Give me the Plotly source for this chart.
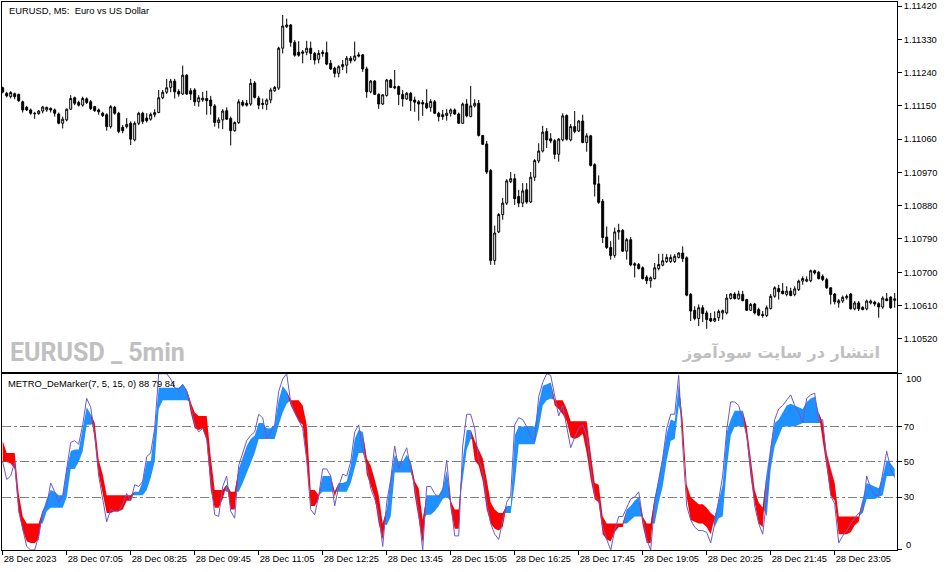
import plotly.graph_objects as go

# EURUSD M5 candles, 28 Dec 2023 from 05:45
opens = [
    1.11199, 1.11184, 1.11175, 1.11183, 1.11181, 1.11161, 1.11146, 1.11139, 1.11130, 1.11129,
    1.11136, 1.11139, 1.11143, 1.11139, 1.11128, 1.11103, 1.11112, 1.11141, 1.11172, 1.11159,
    1.11152, 1.11169, 1.11161, 1.11148, 1.11139, 1.11130, 1.11126, 1.11094, 1.11146, 1.11130,
    1.11092, 1.11094, 1.11103, 1.11058, 1.11103, 1.11130, 1.11117, 1.11114, 1.11126, 1.11132,
    1.11172, 1.11187, 1.11200, 1.11217, 1.11189, 1.11182, 1.11233, 1.11191, 1.11193, 1.11161,
    1.11166, 1.11170, 1.11166, 1.11150, 1.11105, 1.11112, 1.11137, 1.11116, 1.11083, 1.11105,
    1.11160, 1.11157, 1.11155, 1.11212, 1.11171, 1.11157, 1.11154, 1.11166, 1.11191, 1.11198,
    1.11306, 1.11364, 1.11369, 1.11322, 1.11295, 1.11292, 1.11295, 1.11306, 1.11292, 1.11276,
    1.11295, 1.11294, 1.11265, 1.11252, 1.11238, 1.11256, 1.11260, 1.11279, 1.11274, 1.11288,
    1.11288, 1.11250, 1.11188, 1.11217, 1.11181, 1.11155, 1.11178, 1.11220, 1.11202, 1.11202,
    1.11181, 1.11169, 1.11184, 1.11166, 1.11161, 1.11159, 1.11157, 1.11146, 1.11161, 1.11130,
    1.11126, 1.11124, 1.11130, 1.11139, 1.11128, 1.11103, 1.11155, 1.11121, 1.11150, 1.11157,
    1.11070, 1.11047, 1.10975, 1.10732, 1.10809, 1.10856, 1.10887, 1.10945, 1.10953, 1.10905,
    1.10887, 1.10923, 1.10890, 1.10957, 1.11001, 1.11028, 1.11081, 1.11061, 1.11056, 1.11019,
    1.11058, 1.11124, 1.11058, 1.11094, 1.11082, 1.11109, 1.11051, 1.11069, 1.10991, 1.10939,
    1.10892, 1.10795, 1.10767, 1.10745, 1.10809, 1.10813, 1.10757, 1.10788, 1.10723, 1.10721,
    1.10712, 1.10687, 1.10677, 1.10683, 1.10710, 1.10719, 1.10729, 1.10729, 1.10729, 1.10740,
    1.10752, 1.10739, 1.10640, 1.10597, 1.10575, 1.10604, 1.10590, 1.10575, 1.10568, 1.10577,
    1.10590, 1.10590, 1.10629, 1.10641, 1.10628, 1.10640, 1.10626, 1.10597, 1.10614, 1.10599,
    1.10586, 1.10583, 1.10602, 1.10635, 1.10656, 1.10649, 1.10640, 1.10649, 1.10640, 1.10653,
    1.10676, 1.10676, 1.10677, 1.10704, 1.10700, 1.10689, 1.10680, 1.10658, 1.10641, 1.10617,
    1.10622, 1.10631, 1.10641, 1.10601, 1.10617, 1.10605, 1.10601, 1.10617, 1.10619, 1.10615,
    1.10606, 1.10628, 1.10633, 1.10624,
]
highs = [
    1.11202, 1.11188, 1.11190, 1.11186, 1.11183, 1.11164, 1.11150, 1.11143, 1.11134, 1.11139,
    1.11150, 1.11148, 1.11146, 1.11143, 1.11132, 1.11121, 1.11143, 1.11179, 1.11175, 1.11164,
    1.11175, 1.11173, 1.11166, 1.11150, 1.11143, 1.11134, 1.11130, 1.11152, 1.11150, 1.11134,
    1.11098, 1.11117, 1.11108, 1.11108, 1.11134, 1.11134, 1.11130, 1.11132, 1.11141, 1.11193,
    1.11193, 1.11223, 1.11223, 1.11223, 1.11195, 1.11259, 1.11236, 1.11198, 1.11198, 1.11179,
    1.11188, 1.11191, 1.11177, 1.11155, 1.11119, 1.11141, 1.11146, 1.11121, 1.11108, 1.11168,
    1.11166, 1.11166, 1.11223, 1.11217, 1.11177, 1.11170, 1.11170, 1.11199, 1.11204, 1.11310,
    1.11396, 1.11386, 1.11371, 1.11328, 1.11325, 1.11301, 1.11326, 1.11324, 1.11296, 1.11301,
    1.11301, 1.11324, 1.11274, 1.11256, 1.11260, 1.11274, 1.11285, 1.11285, 1.11324, 1.11295,
    1.11290, 1.11256, 1.11220, 1.11220, 1.11184, 1.11181, 1.11223, 1.11223, 1.11247, 1.11205,
    1.11193, 1.11188, 1.11188, 1.11175, 1.11166, 1.11166, 1.11195, 1.11168, 1.11166, 1.11134,
    1.11139, 1.11141, 1.11143, 1.11143, 1.11132, 1.11159, 1.11168, 1.11204, 1.11168, 1.11166,
    1.11071, 1.11055, 1.10979, 1.10826, 1.10860, 1.10901, 1.10952, 1.10971, 1.10966, 1.10923,
    1.10941, 1.10941, 1.10971, 1.11006, 1.11049, 1.11096, 1.11090, 1.11076, 1.11060, 1.11063,
    1.11130, 1.11127, 1.11101, 1.11136, 1.11112, 1.11126, 1.11076, 1.11071, 1.10995, 1.10962,
    1.10898, 1.10824, 1.10784, 1.10821, 1.10831, 1.10817, 1.10793, 1.10795, 1.10727, 1.10725,
    1.10716, 1.10692, 1.10689, 1.10725, 1.10750, 1.10750, 1.10749, 1.10748, 1.10749, 1.10754,
    1.10770, 1.10743, 1.10644, 1.10608, 1.10613, 1.10611, 1.10596, 1.10590, 1.10594, 1.10599,
    1.10599, 1.10641, 1.10644, 1.10646, 1.10650, 1.10650, 1.10628, 1.10617, 1.10617, 1.10604,
    1.10595, 1.10610, 1.10641, 1.10662, 1.10666, 1.10671, 1.10662, 1.10658, 1.10662, 1.10680,
    1.10689, 1.10689, 1.10707, 1.10707, 1.10703, 1.10694, 1.10685, 1.10659, 1.10644, 1.10628,
    1.10637, 1.10640, 1.10644, 1.10622, 1.10622, 1.10608, 1.10626, 1.10626, 1.10623, 1.10619,
    1.10635, 1.10644, 1.10635, 1.10644,
]
lows = [
    1.11184, 1.11173, 1.11170, 1.11168, 1.11161, 1.11132, 1.11136, 1.11126, 1.11115, 1.11126,
    1.11130, 1.11134, 1.11132, 1.11121, 1.11100, 1.11089, 1.11108, 1.11139, 1.11152, 1.11148,
    1.11148, 1.11155, 1.11139, 1.11134, 1.11126, 1.11120, 1.11083, 1.11089, 1.11126, 1.11076,
    1.11076, 1.11089, 1.11044, 1.11054, 1.11098, 1.11101, 1.11105, 1.11110, 1.11119, 1.11130,
    1.11168, 1.11182, 1.11187, 1.11170, 1.11175, 1.11180, 1.11180, 1.11166, 1.11150, 1.11148,
    1.11161, 1.11126, 1.11126, 1.11094, 1.11089, 1.11087, 1.11112, 1.11043, 1.11080, 1.11101,
    1.11148, 1.11148, 1.11150, 1.11170, 1.11141, 1.11141, 1.11139, 1.11157, 1.11188, 1.11193,
    1.11292, 1.11361, 1.11310, 1.11283, 1.11283, 1.11265, 1.11287, 1.11274, 1.11262, 1.11265,
    1.11283, 1.11260, 1.11247, 1.11227, 1.11227, 1.11247, 1.11238, 1.11265, 1.11270, 1.11281,
    1.11242, 1.11172, 1.11184, 1.11180, 1.11142, 1.11152, 1.11175, 1.11198, 1.11195, 1.11152,
    1.11148, 1.11166, 1.11136, 1.11134, 1.11110, 1.11123, 1.11141, 1.11134, 1.11128, 1.11108,
    1.11112, 1.11110, 1.11121, 1.11126, 1.11101, 1.11101, 1.11119, 1.11119, 1.11146, 1.11067,
    1.11044, 1.10966, 1.10720, 1.10720, 1.10806, 1.10842, 1.10882, 1.10941, 1.10882, 1.10876,
    1.10876, 1.10885, 1.10887, 1.10947, 1.10995, 1.11024, 1.11036, 1.11049, 1.11006, 1.10999,
    1.11054, 1.11056, 1.11054, 1.11076, 1.11079, 1.11049, 1.11026, 1.10986, 1.10905, 1.10885,
    1.10779, 1.10763, 1.10734, 1.10739, 1.10788, 1.10755, 1.10734, 1.10716, 1.10686, 1.10707,
    1.10680, 1.10668, 1.10658, 1.10680, 1.10705, 1.10716, 1.10725, 1.10725, 1.10725, 1.10737,
    1.10728, 1.10635, 1.10568, 1.10570, 1.10554, 1.10565, 1.10547, 1.10565, 1.10565, 1.10568,
    1.10572, 1.10586, 1.10626, 1.10626, 1.10626, 1.10622, 1.10595, 1.10595, 1.10586, 1.10581,
    1.10577, 1.10579, 1.10599, 1.10631, 1.10626, 1.10640, 1.10635, 1.10635, 1.10635, 1.10649,
    1.10666, 1.10673, 1.10673, 1.10694, 1.10680, 1.10676, 1.10655, 1.10613, 1.10613, 1.10604,
    1.10617, 1.10626, 1.10599, 1.10597, 1.10595, 1.10597, 1.10597, 1.10613, 1.10608, 1.10577,
    1.10601, 1.10622, 1.10601, 1.10604,
]
closes = [
    1.11188, 1.11177, 1.11186, 1.11175, 1.11164, 1.11139, 1.11139, 1.11130, 1.11129, 1.11136,
    1.11147, 1.11146, 1.11139, 1.11130, 1.11103, 1.11114, 1.11141, 1.11170, 1.11157, 1.11152,
    1.11170, 1.11159, 1.11143, 1.11137, 1.11134, 1.11124, 1.11094, 1.11148, 1.11130, 1.11081,
    1.11083, 1.11100, 1.11060, 1.11103, 1.11130, 1.11108, 1.11110, 1.11127, 1.11132, 1.11172,
    1.11187, 1.11199, 1.11217, 1.11188, 1.11182, 1.11233, 1.11182, 1.11182, 1.11161, 1.11172,
    1.11171, 1.11164, 1.11150, 1.11105, 1.11112, 1.11136, 1.11114, 1.11083, 1.11105, 1.11161,
    1.11152, 1.11152, 1.11211, 1.11173, 1.11152, 1.11154, 1.11166, 1.11193, 1.11200, 1.11306,
    1.11366, 1.11369, 1.11322, 1.11287, 1.11287, 1.11296, 1.11306, 1.11292, 1.11274, 1.11292,
    1.11292, 1.11263, 1.11250, 1.11238, 1.11256, 1.11262, 1.11279, 1.11272, 1.11285, 1.11285,
    1.11250, 1.11188, 1.11217, 1.11181, 1.11155, 1.11180, 1.11220, 1.11200, 1.11199, 1.11181,
    1.11169, 1.11184, 1.11164, 1.11160, 1.11155, 1.11155, 1.11145, 1.11162, 1.11130, 1.11121,
    1.11121, 1.11130, 1.11139, 1.11128, 1.11103, 1.11155, 1.11123, 1.11150, 1.11157, 1.11070,
    1.11046, 1.10971, 1.10732, 1.10806, 1.10856, 1.10887, 1.10947, 1.10953, 1.10899, 1.10887,
    1.10920, 1.10890, 1.10957, 1.11002, 1.11028, 1.11079, 1.11058, 1.11055, 1.11019, 1.11060,
    1.11123, 1.11060, 1.11094, 1.11081, 1.11109, 1.11051, 1.11069, 1.10989, 1.10938, 1.10889,
    1.10794, 1.10767, 1.10745, 1.10809, 1.10813, 1.10757, 1.10788, 1.10720, 1.10719, 1.10710,
    1.10683, 1.10677, 1.10685, 1.10712, 1.10721, 1.10731, 1.10740, 1.10740, 1.10743, 1.10752,
    1.10737, 1.10638, 1.10595, 1.10575, 1.10604, 1.10588, 1.10572, 1.10568, 1.10575, 1.10594,
    1.10596, 1.10630, 1.10641, 1.10629, 1.10641, 1.10623, 1.10597, 1.10613, 1.10590, 1.10584,
    1.10583, 1.10604, 1.10635, 1.10658, 1.10647, 1.10642, 1.10649, 1.10637, 1.10655, 1.10676,
    1.10683, 1.10680, 1.10704, 1.10698, 1.10683, 1.10680, 1.10658, 1.10640, 1.10620, 1.10623,
    1.10632, 1.10635, 1.10601, 1.10617, 1.10601, 1.10599, 1.10622, 1.10622, 1.10614, 1.10606,
    1.10630, 1.10623, 1.10604, 1.10628,
]

# METRO_DeMarker buffers
demarker = [
    50, 40, 42, 50, 22, 11, 2, 0, 0, 8,
    22, 25, 38, 33, 27, 31, 46, 61, 62, 60,
    71, 86, 81, 65, 42, 29, 16, 23, 22, 22,
    26, 32, 28, 37, 36, 39, 53, 55, 69, 100,
    100, 100, 97, 92, 91, 94, 90, 82, 71, 67,
    69, 63, 40, 20, 19, 36, 42, 22, 18, 48,
    55, 62, 65, 67, 77, 75, 63, 67, 71, 90,
    97, 100, 84, 78, 73, 69, 51, 23, 20, 31,
    46, 46, 42, 25, 36, 43, 42, 50, 67, 71,
    57, 48, 35, 29, 21, 2, 27, 40, 59, 46,
    53, 58, 46, 36, 21, 0, 36, 36, 32, 30,
    34, 51, 27, 8, 8, 59, 77, 77, 69, 51,
    45, 27, 15, 9, 6, 16, 27, 31, 71, 75,
    74, 70, 64, 62, 87, 95, 100, 99, 88, 76,
    82, 71, 58, 64, 69, 71, 65, 46, 31, 28,
    13, 6, 0, 11, 19, 19, 24, 29, 30, 33,
    18, 6, 0, 27, 40, 52, 69, 77, 77, 99,
    59, 25, 17, 13, 11, 11, 10, 4, 15, 28,
    42, 68, 84, 84, 82, 74, 65, 46, 25, 15,
    9, 29, 57, 74, 80, 82, 85, 88, 82, 78,
    72, 86, 88, 89, 73, 74, 50, 31, 26, 4,
    8, 11, 15, 18, 21, 22, 42, 35, 31, 31,
    44, 56, 46, 41,
]
fast_step = [
    50, 50, 49, 46, 22, 11, 5, 4, 4, 6,
    22, 29, 34, 33, 31, 31, 46, 56, 57, 57,
    69, 81, 77, 63, 43, 31, 21, 21, 22, 22,
    23, 28, 28, 33, 33, 39, 50, 50, 69, 92,
    92, 92, 92, 92, 92, 94, 91, 78, 69, 68,
    69, 62, 34, 24, 24, 29, 37, 23, 23, 46,
    52, 59, 63, 65, 72, 72, 69, 69, 71, 85,
    93, 90, 82, 77, 73, 71, 51, 25, 25, 29,
    42, 42, 42, 30, 38, 38, 39, 48, 63, 68,
    67, 43, 37, 30, 15, 6, 23, 40, 54, 50,
    50, 54, 50, 31, 17, 4, 31, 31, 31, 31,
    35, 45, 23, 12, 12, 51, 68, 68, 51, 48,
    39, 23, 15, 12, 11, 13, 25, 25, 65, 70,
    70, 70, 70, 70, 83, 93, 94, 95, 82, 80,
    77, 73, 64, 63, 64, 66, 55, 40, 29, 27,
    9, 6, 5, 10, 13, 13, 23, 25, 28, 30,
    14, 4, 4, 30, 40, 52, 66, 74, 73, 94,
    59, 30, 17, 16, 15, 15, 13, 9, 19, 28,
    37, 67, 74, 79, 79, 79, 63, 41, 27, 15,
    13, 44, 59, 72, 74, 78, 82, 83, 82, 81,
    80, 84, 86, 87, 78, 62, 46, 31, 28, 9,
    9, 9, 10, 14, 16, 29, 38, 37, 36, 35,
    42, 51, 49, 46,
]
slow_step = [
    62, 55, 55, 55, 32, 19, 15, 15, 15, 15,
    15, 22, 24, 24, 24, 24, 30, 46, 46, 50,
    56, 71, 71, 72, 51, 43, 31, 31, 31, 31,
    31, 31, 31, 31, 31, 31, 34, 41, 50, 80,
    85, 85, 85, 85, 85, 85, 85, 84, 78, 76,
    76, 76, 53, 34, 34, 34, 33, 33, 33, 33,
    38, 44, 50, 55, 63, 63, 63, 63, 63, 71,
    78, 83, 85, 85, 85, 82, 71, 34, 34, 31,
    33, 33, 33, 33, 33, 33, 33, 38, 46, 55,
    55, 52, 48, 40, 31, 15, 14, 19, 44, 44,
    44, 44, 44, 39, 35, 17, 20, 20, 22, 25,
    29, 30, 28, 23, 23, 40, 57, 63, 62, 57,
    52, 40, 27, 23, 21, 21, 21, 21, 38, 60,
    60, 60, 60, 60, 69, 82, 85, 86, 85, 85,
    85, 80, 73, 73, 73, 73, 73, 55, 38, 37,
    19, 15, 15, 15, 15, 15, 15, 17, 19, 19,
    19, 15, 15, 15, 27, 36, 51, 62, 63, 82,
    73, 37, 30, 28, 26, 26, 24, 21, 13, 18,
    19, 46, 65, 70, 70, 70, 70, 51, 34, 27,
    24, 19, 46, 59, 65, 70, 70, 70, 70, 71,
    72, 72, 72, 72, 72, 72, 55, 46, 38, 19,
    19, 19, 19, 19, 19, 21, 29, 29, 29, 30,
    31, 42, 42, 42,
]

time_labels = ["28 Dec 2023", "28 Dec 07:05", "28 Dec 08:25", "28 Dec 09:45",
               "28 Dec 11:05", "28 Dec 12:25", "28 Dec 13:45", "28 Dec 15:05",
               "28 Dec 16:25", "28 Dec 17:45", "28 Dec 19:05", "28 Dec 20:25",
               "28 Dec 21:45", "28 Dec 23:05"]
price_ticks = [1.10520, 1.10610, 1.10700, 1.10790, 1.10880, 1.10970,
               1.11060, 1.11150, 1.11240, 1.11330, 1.11420]
level_ticks = [0, 30, 50, 70, 100]

bars = list(range(len(closes)))
tick_idx = list(range(0, len(closes), 16))[:len(time_labels)]
upper = [max(f, s) for f, s in zip(fast_step, slow_step)]

FONT = "Liberation Sans, Arial, sans-serif"
x_range = [-0.175, 223.575]

fig = go.Figure()
fig.add_trace(go.Candlestick(
    x=bars, open=opens, high=highs, low=lows, close=closes,
    increasing=dict(line=dict(color="black", width=1), fillcolor="white"),
    decreasing=dict(line=dict(color="black", width=1), fillcolor="black"),
    whiskerwidth=0, xaxis="x", yaxis="y", hoverinfo="skip"))

# blue where fast > slow, red otherwise
fig.add_trace(go.Scatter(x=bars, y=slow_step, mode="lines", line=dict(width=0),
                         xaxis="x2", yaxis="y2", hoverinfo="skip"))
fig.add_trace(go.Scatter(x=bars, y=upper, mode="lines", line=dict(width=0),
                         fill="tonexty", fillcolor="#1E90FF",
                         xaxis="x2", yaxis="y2", hoverinfo="skip"))
fig.add_trace(go.Scatter(x=bars, y=fast_step, mode="lines", line=dict(width=0),
                         xaxis="x2", yaxis="y2", hoverinfo="skip"))
fig.add_trace(go.Scatter(x=bars, y=upper, mode="lines", line=dict(width=0),
                         fill="tonexty", fillcolor="#FF0000",
                         xaxis="x2", yaxis="y2", hoverinfo="skip"))
fig.add_trace(go.Scatter(x=bars, y=demarker, mode="lines",
                         line=dict(color="#6A5ACD", width=1),
                         xaxis="x2", yaxis="y2", hoverinfo="skip"))

frame = dict(showline=True, mirror=True, linecolor="black", linewidth=1,
             zeroline=False, showgrid=False, automargin=False)

fig.update_layout(
    width=951, height=572,
    margin=dict(l=2, r=54, t=2, b=22, pad=0),
    paper_bgcolor="white", plot_bgcolor="white",
    showlegend=False,
    font=dict(family=FONT, size=9.3, color="black"),
    xaxis=dict(domain=[0, 1], anchor="y", range=x_range, showticklabels=False,
               ticks="", rangeslider=dict(visible=False), **frame),
    yaxis=dict(domain=[0.3254, 1], anchor="x", side="right",
               range=[1.10431, 1.11431], tickvals=price_ticks,
               ticktext=[f"{v:.5f}" for v in price_ticks],
               ticks="outside", ticklen=4, tickcolor="black", **frame),
    xaxis2=dict(domain=[0, 1], anchor="y2", range=x_range,
                tickvals=tick_idx, ticktext=time_labels, tickangle=0,
                ticks="outside", ticklen=4, tickcolor="black",
                ticklabelposition="outside right", **frame),
    yaxis2=dict(domain=[0, 0.3217], anchor="x2", side="right", range=[0, 100],
                tickvals=level_ticks, ticktext=["", "30", "50", "70", ""],
                ticks="outside", ticklen=4, tickcolor="black",
                showline=True, mirror=True, linecolor="black", linewidth=1,
                zeroline=False, showgrid=True, gridcolor="#808080",
                gridwidth=1, griddash="9px,3px,3px,3px", automargin=False),
)

fig.add_annotation(text="EURUSD, M5:\u00a0 Euro vs US Dollar", xref="paper", yref="paper",
                   x=0.0056, y=0.9854, xanchor="left", yanchor="middle",
                   showarrow=False, font=dict(family=FONT, size=9.4, color="black"))
fig.add_annotation(text="METRO_DeMarker(7, 5, 15, 0) 88 79 84", xref="paper", yref="paper",
                   x=0.0045, y=0.3047, xanchor="left", yanchor="middle",
                   showarrow=False, font=dict(family=FONT, size=9.4, color="black"))
fig.add_annotation(text="<b>EURUSD _ 5min</b>", xref="paper", yref="paper",
                   x=0.0067, y=0.3613, xanchor="left", yanchor="middle",
                   showarrow=False,
                   font=dict(family="Roboto, Liberation Sans, Arial", size=25, color="#C0C0C0"))
fig.add_annotation(text="<b>انتشار در سایت سودآموز</b>", xref="paper", yref="paper",
                   x=0.9832, y=0.3613, xanchor="right", yanchor="middle",
                   showarrow=False,
                   font=dict(family="DejaVu Sans", size=16, color="#C0C0C0"))
fig.add_annotation(text="100", xref="paper", yref="paper", x=1.0078, y=0.3120,
                   xanchor="left", yanchor="middle", showarrow=False,
                   font=dict(family=FONT, size=9.3, color="black"))
fig.add_annotation(text="0", xref="paper", yref="paper", x=1.0078, y=0.0091,
                   xanchor="left", yanchor="middle", showarrow=False,
                   font=dict(family=FONT, size=9.3, color="black"))

# page has a default 8px body margin; drop it so the chart sits flush
fig.write_html("out.html", config={"displayModeBar": False},
               post_script="document.body.style.margin='0';")
